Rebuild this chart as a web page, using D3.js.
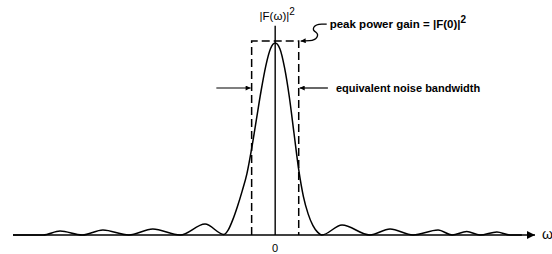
<meta charset="utf-8">
<title>Equivalent noise bandwidth</title>
<style>
body { margin: 0; background: #fff; }
text { font-family: 'Liberation Sans', Arial, sans-serif; fill: #000; }
</style>
<body>
<script src="https://d3js.org/d3.v7.min.js"></script>
<script>
// |F(w)|^2, w in units of the first null
var omega = [-5.57, -4.93, -4.57, -4.10, -3.66, -3.11, -2.60, -2.02, -1.49, -1.09,
             -1.0, -0.9, -0.8, -0.7, -0.6, -0.5, -0.4, -0.3, -0.2, -0.1, 0,
             0.1, 0.2, 0.3, 0.4, 0.5, 0.6, 0.7, 0.8, 0.9, 0.99,
             1.42, 2.01, 2.44, 2.93, 3.46, 3.76, 4.07, 4.35, 4.71, 4.99, 5.24];
var power = [0, 0, 0.021, 0, 0.026, 0, 0.031, 0, 0.057, 0.003,
             0.025, 0.08, 0.15, 0.23, 0.32, 0.45, 0.60, 0.75, 0.88, 0.97, 1.0,
             0.97, 0.87, 0.72, 0.53, 0.34, 0.20, 0.11, 0.05, 0.015, 0,
             0.052, 0, 0.031, 0, 0.026, 0, 0.018, 0, 0.016, 0, 0];
var xTicks = [0];
var bandwidth = [-0.5, 0.5];   // equivalent noise bandwidth edges
var peakGain = 1.01;           // dashed box height
var labels = {
  yAxis: '|F(\u03c9)|',
  xAxis: '\u03c9',
  gain: 'peak power gain = |F(0)|',
  band: 'equivalent noise bandwidth'
};

var width = 552, height = 254;
var svg = d3.select('body').append('svg')
            .attr('width', width)
            .attr('height', height);

var x = d3.scaleLinear().domain([-5.57, 5.52]).range([13, 535]);
var y = d3.scaleLinear().domain([0, 1]).range([235, 43]);

svg.append('defs').append('marker')
    .attr('id', 'head')
    .attr('viewBox', '0 0 10 10')
    .attr('refX', 10).attr('refY', 5)
    .attr('markerUnits', 'userSpaceOnUse')
    .attr('markerWidth', 12).attr('markerHeight', 8)
    .attr('orient', 'auto')
  .append('path')
    .attr('d', 'M0,0 L10,5 L0,10 Z')
    .style('fill', '#000');

svg.append('defs').append('marker')
    .attr('id', 'small')
    .attr('viewBox', '0 0 10 10')
    .attr('refX', 10).attr('refY', 5)
    .attr('markerUnits', 'userSpaceOnUse')
    .attr('markerWidth', 10).attr('markerHeight', 5)
    .attr('orient', 'auto')
  .append('path')
    .attr('d', 'M0,0 L10,5 L0,10 Z')
    .style('fill', '#000');

// horizontal axis with arrow
svg.append('line')
    .attr('x1', x(-5.57)).attr('y1', y(0))
    .attr('x2', x(5.52)).attr('y2', y(0))
    .style('stroke', '#000').style('stroke-width', 1.6)
    .attr('marker-end', 'url(#head)');
svg.append('text')
    .attr('x', x(5.52) + 7).attr('y', y(0) + 4)
    .style('font-size', '14px')
    .text(labels.xAxis);

// vertical axis
svg.append('line')
    .attr('x1', x(0)).attr('y1', y(0))
    .attr('x2', x(0)).attr('y2', y(1.09))
    .style('stroke', '#000').style('stroke-width', 1.4);
var yl = svg.append('text')
    .attr('x', x(0) + 2).attr('y', y(1.09) - 6)
    .style('font-size', '11.5px')
    .style('text-anchor', 'middle')
    .text(labels.yAxis);
yl.append('tspan').attr('dy', -5).style('font-size', '10px').text('2');

svg.selectAll('.tick')
    .data(xTicks)
  .enter().append('text')
    .attr('x', function(d){ return x(d); })
    .attr('y', y(0) + 17)
    .style('font-size', '11px')
    .style('text-anchor', 'middle')
    .text(function(d){ return d; });

// dashed box
svg.append('path')
    .attr('d', 'M' + x(bandwidth[0]) + ',' + y(0) +
               ' L' + x(bandwidth[0]) + ',' + y(peakGain) +
               ' L' + x(bandwidth[1]) + ',' + y(peakGain) +
               ' L' + x(bandwidth[1]) + ',' + y(0))
    .style('fill', 'none')
    .style('stroke', '#000').style('stroke-width', 1.5)
    .style('stroke-dasharray', '8,4');

// curve
var pts = omega.map(function(w, i){ return [w, power[i]]; });
var line = d3.line()
    .x(function(d){ return x(d[0]); })
    .y(function(d){ return y(d[1]); })
    .curve(d3.curveMonotoneX);
svg.append('path')
    .datum(pts)
    .attr('d', line)
    .style('fill', 'none')
    .style('stroke', '#000').style('stroke-width', 1.5);

// bandwidth arrows
var ay = 88;
svg.append('line')
    .attr('x1', x(-1.25)).attr('y1', ay)
    .attr('x2', x(bandwidth[0]) - 1).attr('y2', ay)
    .style('stroke', '#000').style('stroke-width', 1.2)
    .attr('marker-end', 'url(#small)');
svg.append('line')
    .attr('x1', x(1.12)).attr('y1', ay)
    .attr('x2', x(bandwidth[1]) + 1).attr('y2', ay)
    .style('stroke', '#000').style('stroke-width', 1.2)
    .attr('marker-end', 'url(#small)');
svg.append('text')
    .attr('x', x(1.12) + 8).attr('y', ay + 4)
    .style('font-size', '11px')
    .style('font-weight', 'bold')
    .text(labels.band);

// peak gain squiggle
var bx = x(bandwidth[1]), by = y(peakGain);
svg.append('path')
    .attr('d', 'M' + (bx + 28) + ',' + (by - 17) +
               ' L' + (bx + 23) + ',' + (by - 17) +
               ' C' + (bx + 14) + ',' + (by - 17) + ' ' + (bx + 13) + ',' + (by - 11) + ' ' + (bx + 17) + ',' + (by - 9) +
               ' C' + (bx + 21) + ',' + (by - 6) + ' ' + (bx + 18) + ',' + (by - 1) + ' ' + (bx + 11) + ',' + (by - 0.5) +
               ' L' + (bx + 2) + ',' + (by))
    .style('fill', 'none')
    .style('stroke', '#000').style('stroke-width', 1.3)
    .attr('marker-end', 'url(#small)');
var gl = svg.append('text')
    .attr('x', bx + 31).attr('y', by - 13)
    .style('font-size', '11.5px')
    .style('font-weight', 'bold')
    .text(labels.gain);
gl.append('tspan').attr('dy', -5).style('font-size', '10px').text('2');
</script>
</body>
